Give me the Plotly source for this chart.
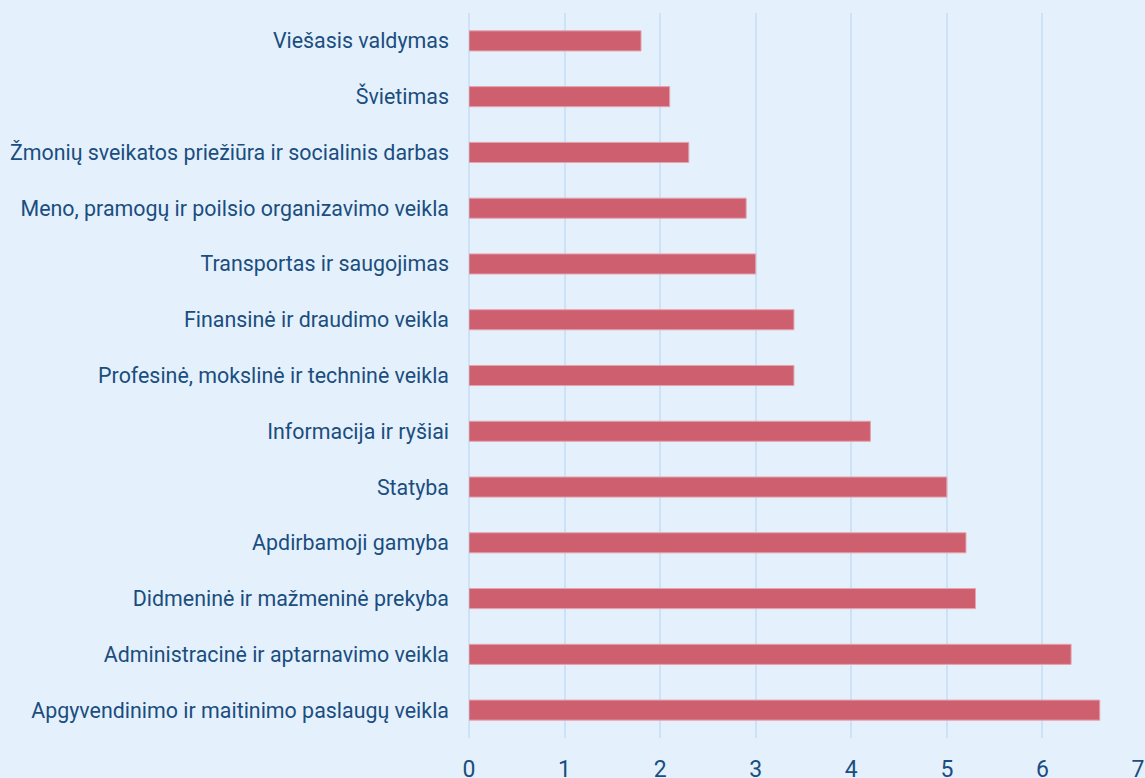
import plotly.graph_objects as go

categories = [
    "Apgyvendinimo ir maitinimo paslaugų veikla",
    "Administracinė ir aptarnavimo veikla",
    "Didmeninė ir mažmeninė prekyba",
    "Apdirbamoji gamyba",
    "Statyba",
    "Informacija ir ryšiai",
    "Profesinė, mokslinė ir techninė veikla",
    "Finansinė ir draudimo veikla",
    "Transportas ir saugojimas",
    "Meno, pramogų ir poilsio organizavimo veikla",
    "Žmonių sveikatos priežiūra ir socialinis darbas",
    "Švietimas",
    "Viešasis valdymas",
]
values = [6.6, 6.3, 5.3, 5.2, 5.0, 4.2, 3.4, 3.4, 3.0, 2.9, 2.3, 2.1, 1.8]
x_ticks = [0, 1, 2, 3, 4, 5, 6, 7]

bg = "#e4f1fd"
text_color = "#1b4d7e"
grid_color = "#cbe2f7"

fig = go.Figure(go.Bar(
    y=categories,
    x=values,
    orientation="h",
    width=0.36,
    marker=dict(color="#ce5f6f", line=dict(color="#e6a3ad", width=1)),
))

fig.update_layout(
    width=1145, height=778,
    paper_bgcolor=bg, plot_bgcolor=bg,
    margin=dict(l=469, r=7, t=13, b=40),
    font=dict(family="Roboto", color=text_color),
    showlegend=False,
    bargap=0.64,
)
fig.update_xaxes(
    range=[0, 7], tickvals=x_ticks, ticktext=[str(t) for t in x_ticks],
    showgrid=True, gridcolor=grid_color, gridwidth=1.5,
    zeroline=True, zerolinecolor=grid_color, zerolinewidth=1.5,
    tickfont=dict(size=23, color=text_color),
    ticklabelstandoff=15,
    showline=False, fixedrange=True, automargin=False,
)
fig.update_yaxes(
    categoryorder="array", categoryarray=categories,
    tickfont=dict(size=21.4, color=text_color),
    ticklabelstandoff=19,
    showgrid=False, fixedrange=True, automargin=False,
)

fig.write_html(
    "out.html",
    config={"displayModeBar": False},
    post_script="document.body.style.margin='0';document.body.style.background='#e4f1fd';",
)
